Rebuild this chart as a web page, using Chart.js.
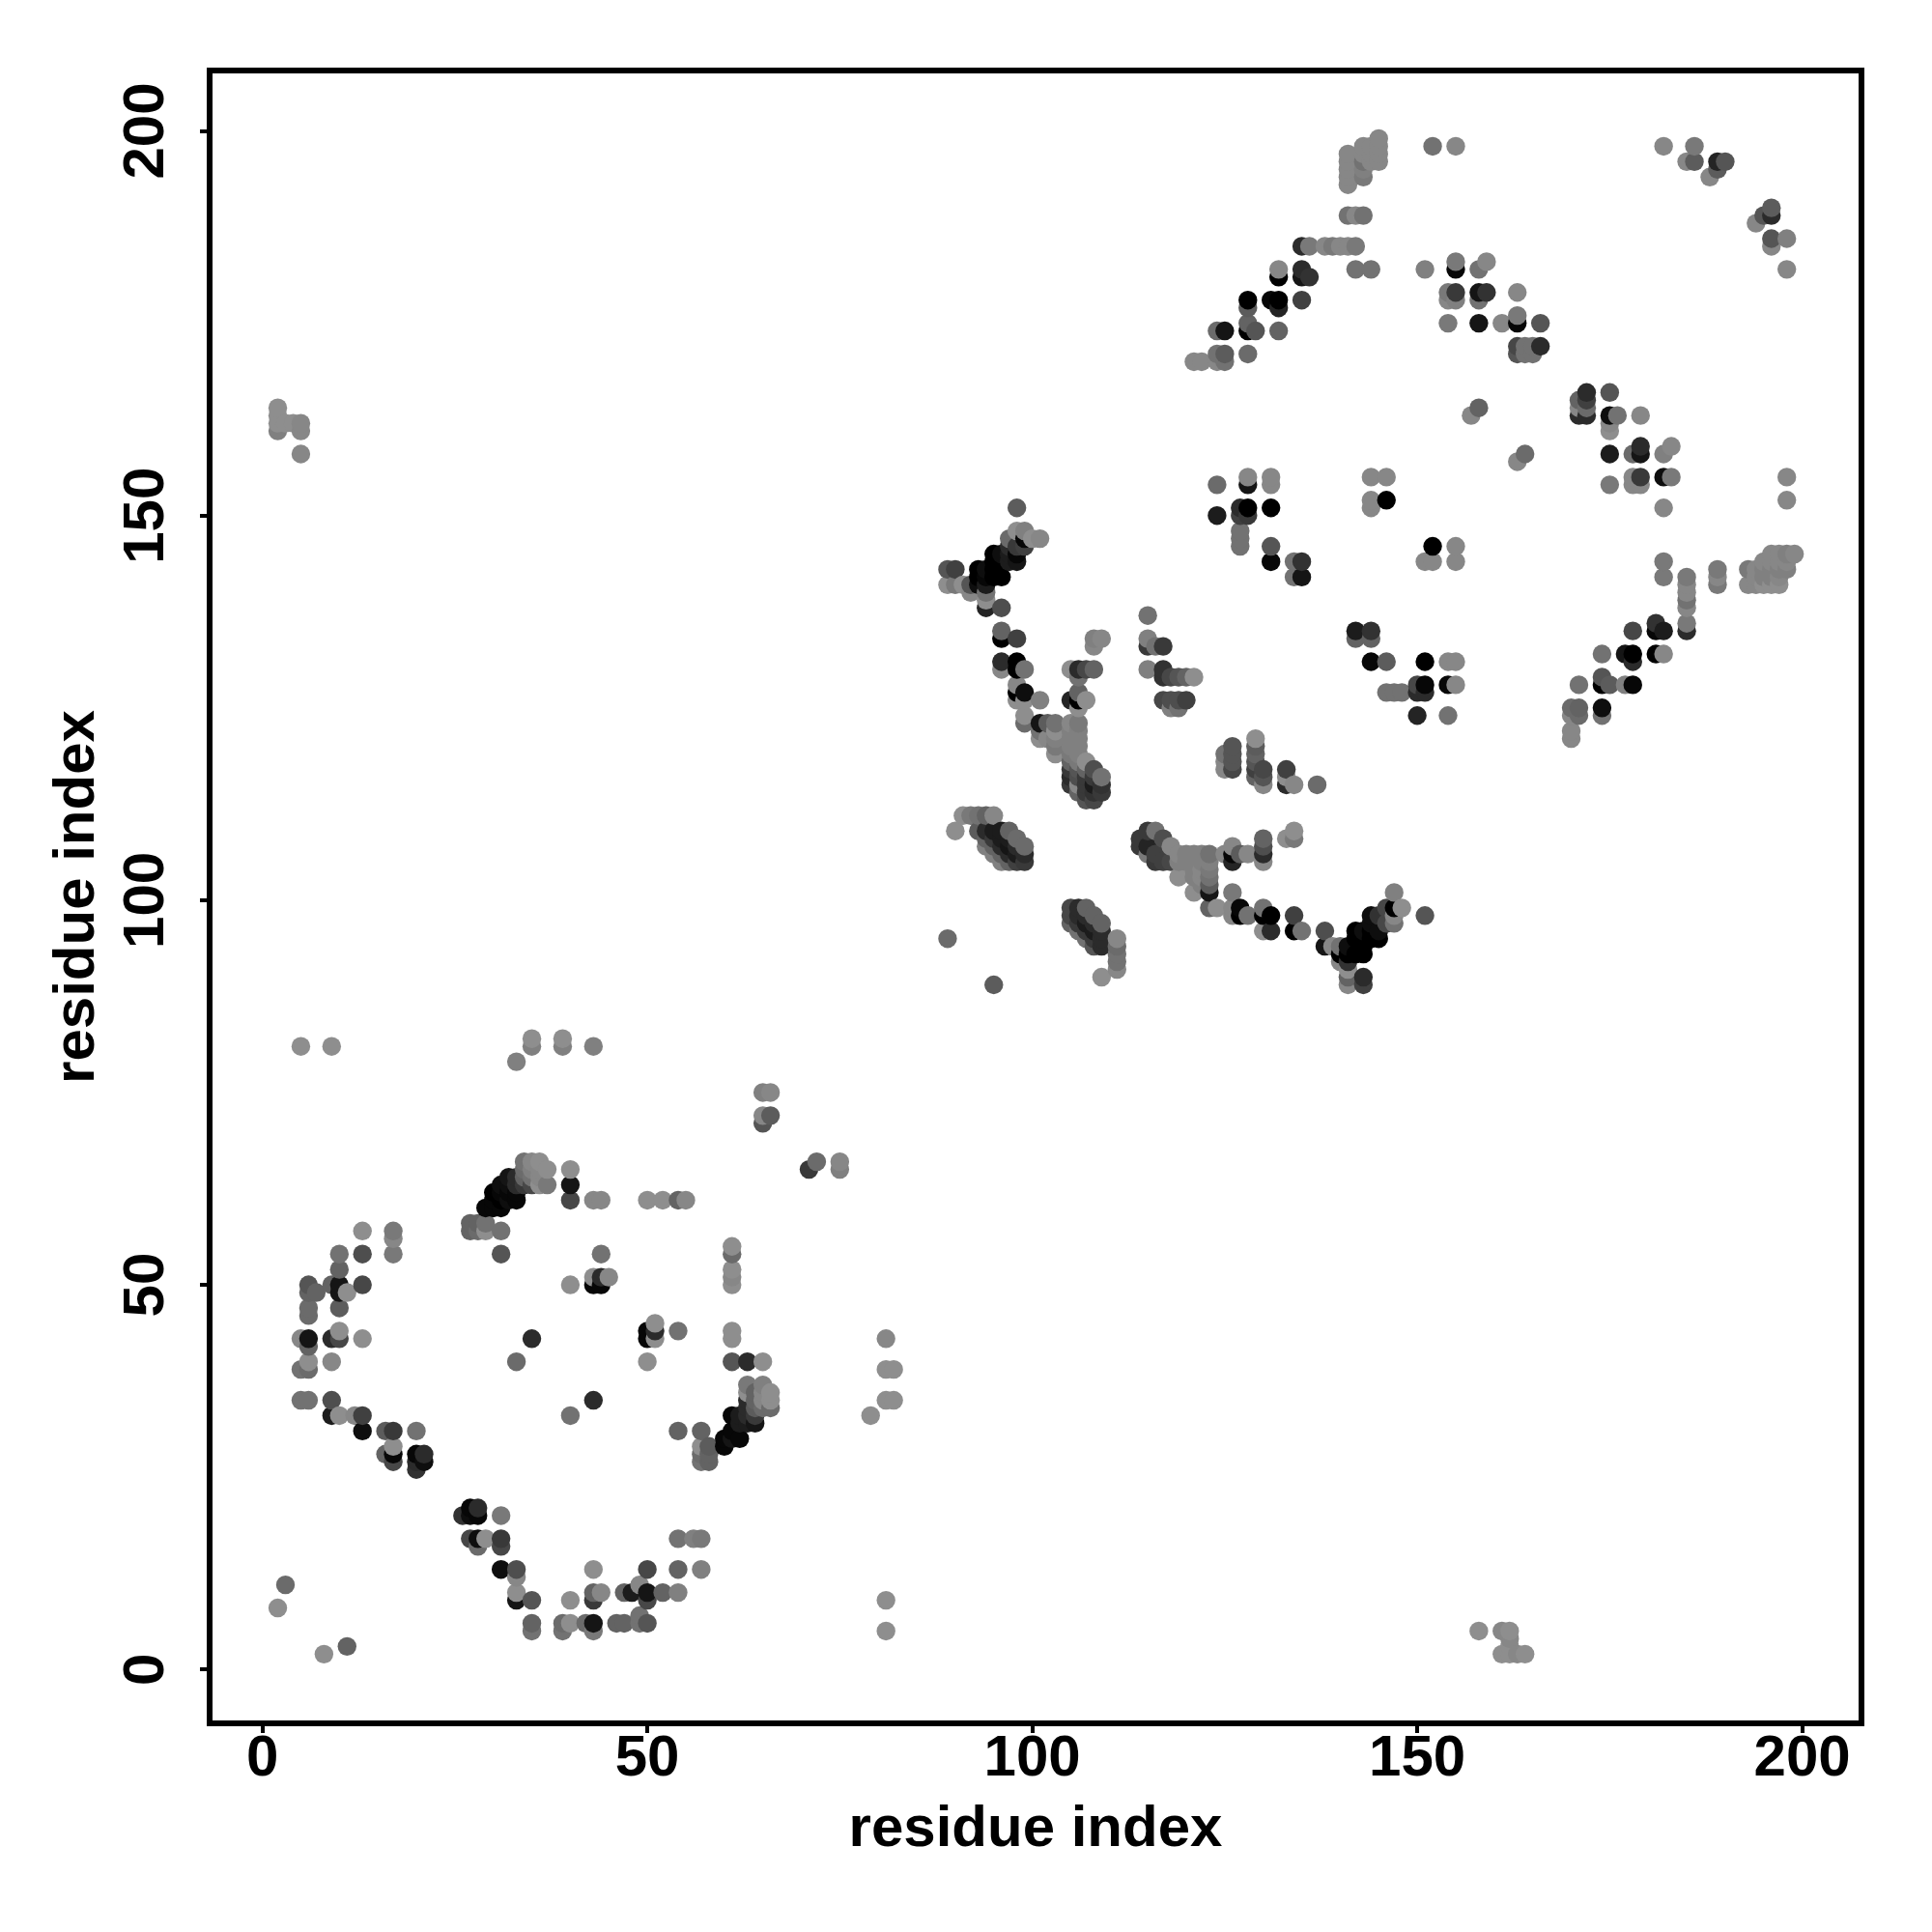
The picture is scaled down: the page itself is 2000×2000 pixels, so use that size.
<!DOCTYPE html>
<html>
<head>
<meta charset="utf-8">
<title>contact map</title>
<script src="https://cdn.jsdelivr.net/npm/chart.js@4"></script>
<style>
html, body { margin: 0; padding: 0; background: #fff; }
canvas { display: block; }
</style>
</head>
<body>
<canvas id="contact_map" width="2000" height="2000"></canvas>
<script>
// every contact is [residue i, residue j, strength], strength 0 = faint, 1 = strong
const xTicks = [0, 50, 100, 150, 200]
const yTicks = [0, 50, 100, 150, 200]
const axisTitle = "residue index"

const lowerRing = [
  [2,8,0],[3,11,.25],[8,2,0],[11,3,.3],
  [35,5,.2],[35,6,.3],[39,5,.2],[39,6,.25],[40,6,0],[42,6,.25],[43,5,.15],[43,6,.85],[46,6,.3],[47,6,.3],[49,6,.2],[49,7,.2],[50,6,.4],
  [33,9,.85],[35,9,.4],[40,9,0],[43,9,.6],[50,9,.5],
  [33,10,0],[43,10,.3],[44,10,.05],[47,10,.3],[48,10,.8],[50,10,.85],[52,10,.3],[54,10,.1],[49,11,.05],
  [33,12,.05],[31,13,.9],[33,13,.45],[43,13,0],[50,13,.5],[54,13,.3],[57,13,.1],
  [28,16,.25],[31,16,.5],[27,17,.5],[28,17,.9],[29,17,0],[31,17,.6],[54,17,.2],[56,17,.1],[57,17,.15],
  [26,20,.65],[27,20,.9],[28,20,.95],[31,20,.15],[27,21,.95],[28,21,.7],
  [20,26,.65],[17,27,.5],[20,27,.7],[21,27,.9],[16,28,.3],[17,28,.95],[20,28,.95],[21,28,.7],[17,29,0],
  [13,31,.9],[16,31,.35],[17,31,.6],[20,31,.2],[54,31,.3],[57,31,.3],
  [9,33,.8],[10,33,0],[12,33,.05],[13,33,.55],[40,33,.2],
  [5,35,.2],[6,35,.2],[9,35,.45],[43,35,.7],
  [5,39,.2],[6,39,.25],[6,40,0],[9,40,.05],[33,40,.25],[50,40,0],
  [6,42,.3],[5,43,.05],[6,43,.85],[9,43,.7],[10,43,.5],[13,43,0],[35,43,.7],[50,43,.95],[51,43,0],
  [10,44,0],[50,44,.95],[51,44,.7],[54,44,.2],[51,45,0],[6,46,.25],[6,47,.25],[10,47,.35],
  [6,49,.3],[7,49,.3],[10,49,.85],[11,49,0],
  [6,50,.4],[9,50,.3],[10,50,.85],[13,50,.5],[40,50,0],[43,50,.95],[44,50,.95],
  [43,51,0],[44,51,.7],[45,51,.05],[10,52,.3],[10,54,.2],[13,54,.45],[17,54,.15],[31,54,.4],[44,54,.2],[17,56,.05],[13,57,0],[17,57,.15],
  [27,57,.3],[28,57,.25],[29,57,0],[31,57,.2],[27,58,.3],[28,58,.3],[29,58,.2]
]

const lowerDiagonal = [
  [29,60,.95],[30,60,.95],[31,60,.95],[30,61,.95],[31,61,1],[32,61,.9],[33,61,.95],[40,61,.5],[43,61,.05],[44,61,.05],[50,61,0],[52,61,0],[54,61,.3],[55,61,.05],
  [30,62,1],[31,62,.95],[32,62,.95],[33,62,.95],
  [31,63,.9],[32,63,.9],[33,63,.7],[34,63,.6],[35,63,.5],[36,63,0],[37,63,.15],[40,63,.85],
  [32,64,.85],[33,64,.7],[34,64,.3],[35,64,.2],[36,64,.05],
  [34,65,.25],[35,65,.1],[36,65,.05],[37,65,0],[40,65,0],[34,66,.2],[35,66,.05],[36,66,0],
  [61,55,0],[61,54,.25],[61,52,0],[61,51,.05],[61,50,0],[61,44,0],[61,43,0],[61,40,.4],[63,40,.7],[65,40,0],
  [63,37,.15],[65,37,.1],[66,36,0],[60,29,.95],[60,30,.95],[61,30,.85],[62,30,.95],[61,31,.95],[61,33,.95],
  [62,32,.8],[62,33,.8],[63,32,.8],[64,32,.85],[63,33,.7],[64,33,.6],[63,34,.7],[64,34,.35],[65,34,.25],[66,34,.25],
  [63,35,.7],[64,35,.3],[65,35,.05],[66,35,0],[63,36,0],[64,36,.3],[65,36,.05],
  [57,29,0],[58,29,.35],[57,28,.25],[58,28,.3],[57,27,.2],[58,27,.3]
]

const lowerFar = [
  [5,81,0],[9,81,0],[33,79,.1],[35,81,.1],[35,82,0],[39,81,.1],[39,82,0],[43,81,.1],
  [65,75,.1],[66,75,.05],[65,72,.05],[66,72,.35],[65,71,.4],[71,65,.6],[72,66,.25],[75,66,.05],[75,65,.1],
  [79,33,0],[81,35,0],[82,35,0],[81,39,0],[82,39,0],[81,43,.05],[81,9,0],[81,5,0],
  [158,5,0],[161,5,.05],[162,5,0],[162,4,.05],[162,3,0],[161,2,0],[162,2,0],[163,2,.05],[164,2,0],
  [2,161,.1],[2,162,0],[2,163,0],[2,164,0],[3,162,0],[4,162,0],[5,162,.05],[5,161,.05],[5,158,.05]
]

const middleStrands = [
  [89,95,.25],[95,89,.35],[109,90,0],[111,91,.05],[111,92,.2],[111,93,.2],[111,94,.25],[111,95,.05],
  [105,99,.5],[106,99,.7],[107,99,.3],[105,98,.5],[106,98,.7],[107,98,.7],[108,98,.3],
  [105,97,.3],[106,97,.6],[107,97,.8],[108,97,.7],[109,97,.3],[106,96,.2],[107,96,.6],[108,96,.8],[109,96,.7],
  [107,95,.2],[108,95,.6],[109,95,.7],[108,94,.4],[109,94,.7],
  [91,111,0],[92,111,.15],[93,111,.2],[94,111,.3],[95,111,.05],[90,109,0],
  [93,109,.35],[94,109,.7],[95,109,.8],[96,109,.8],[97,109,.3],[94,108,.3],[95,108,.6],[96,108,.8],[97,108,.8],[98,108,.25],
  [94,107,.1],[95,107,.3],[96,107,.7],[97,107,.85],[98,107,.7],[99,107,.25],[95,106,.1],[96,106,.3],[97,106,.7],[98,106,.8],[99,106,.7],
  [96,105,.1],[97,105,.3],[98,105,.55],[99,105,.6],
  [105,130,0],[106,130,.7],[107,130,.5],[108,130,.3],[106,129,.2],[106,127,.3],[105,126,.75],[106,126,1],[107,126,0],[106,125,0],
  [108,134,.1],[109,134,.05],[108,133,.05],
  [115,137,.2],[115,134,.1],[115,133,.6],[116,133,.2],[117,133,.6],[115,130,.1],[117,130,.65],[117,129,.65],[118,129,.5],[119,129,.4],[120,129,.3],[121,129,0],
  [117,126,.5],[118,126,.45],[119,126,.45],[120,126,.55],[118,125,.1],[119,125,.2],
  [98,151,.35],[98,148,0],[99,148,.1],[97,147,.25],[99,147,.95],[101,147,.05],[100,147,0],
  [95,145,1],[96,145,.9],[97,145,.8],[98,145,.95],[97,146,.7],[98,146,.6],[99,146,.55],[95,144,1],[97,144,.8],[98,144,.85],
  [93,143,1],[95,143,1],[94,143,.9],[93,142,1],[94,142,.95],[95,142,1],[96,142,1],[92,141,.4],[93,141,.9],[94,141,.8],
  [89,143,.4],[90,143,.55],[89,141,0],[90,141,.15],[91,141,0],[92,140,.05],[94,140,.2],[94,139,0],[94,138,.75],[96,138,.45],
  [96,135,.3],[96,134,1],[98,134,.55],[96,131,.7],[96,130,.05],[98,131,1],[98,130,1],[99,130,.2],
  [98,128,.05],[98,127,1],[99,127,.9],[98,126,0],[99,126,0],[101,126,.1],[99,124,0],[99,123,.25],
  [101,123,.85],[102,123,.35],[103,123,.2],[101,122,.2],[103,122,0],[101,121,0],[102,121,.05],[103,121,.1],[103,120,.15],[103,119,0],
  [105,123,.05],[106,123,.15],[105,122,.1],[106,122,.1],[105,121,.1],[106,121,.1],[105,120,.1],[106,120,.1],[105,119,.15],[106,119,.1],
  [105,118,.3],[106,118,.15],[107,118,0],[105,117,.6],[106,117,.4],[107,117,.3],[108,117,.45],
  [105,116,.7],[106,116,.45],[107,116,.6],[108,116,.6],[109,116,.2],[105,115,.6],[106,115,.05],[107,115,.6],[108,115,.8],[109,115,.65],
  [106,114,.3],[107,114,.6],[108,114,.65],[109,114,.6],[107,113,.4],[108,113,.5]
]

const middleArc = [
  [114,108,.6],[115,109,.6],[116,109,.2],[114,107,.6],[115,107,.75],[117,108,.45],[118,107,.05],[115,106,.15],[116,106,.55],
  [116,105,.6],[117,105,.55],[118,105,.5],
  [119,106,.05],[120,106,.1],[121,106,.1],[122,106,.1],[123,106,.2],[119,105,.1],[120,105,.1],[121,105,.1],[122,105,.1],[123,105,.1],
  [119,103,0],[121,103,.1],[122,103,.05],[123,103,.2],[121,104,.1],[122,104,.05],[123,104,.15],
  [121,101,0],[122,102,.1],[123,102,.35],[123,101,.85],[123,99,.3],[124,99,0],[126,101,.15],[126,99,.05],[127,99,.95],[127,98,1],[126,98,.05],[128,98,.2],
  [125,106,.05],[126,107,.05],[126,106,.95],[126,105,.75],[127,106,.35],[128,106,.05],[130,108,.3],[130,107,.45],[130,106,.7],[130,105,.05],
  [133,108,0],[134,109,0],[134,108,.15],
  [130,99,.2],[130,98,1],[131,98,1],[130,96,0],[131,96,.7],[134,98,.55],[134,96,1],[135,96,.2],[138,96,.45],[138,94,.85],[139,94,.05],
  [140,94,.2],[141,94,.9],[140,93,1],[141,93,1],[142,93,1],[143,93,1],[142,96,1],[143,96,.9],[142,95,1],[143,94,1],[144,95,1],[145,95,1],[144,96,1],[145,96,.9],
  [144,97,.9],[144,98,.9],[145,98,.65],[146,99,.5],[146,97,.5],[147,97,.2],[147,98,.05],[147,99,1],[148,99,0],[147,101,.1],[151,98,.4],
  [140,92,.05],[141,92,.65],[141,91,0],[141,90,.3],[141,89,.05],[143,90,.7],[143,89,.55],
  [137,115,.25],[130,115,.05],[133,115,.7],[134,115,.05],[133,116,0],[133,117,.55],[129,117,.55],[130,117,.5],[126,117,.5],[125,117,.05],
  [129,121,0],[126,120,.4],[125,119,.2],[129,120,.35],[129,119,.3],[129,118,.4],[126,119,.4],[126,118,.4],[125,118,.05],[129,116,.3],[130,116,.4]
]

const upperRing = [
  [124,154,.25],[124,150,.8],[128,155,.05],[128,154,.85],[131,155,.05],[131,154,.05],
  [127,151,.7],[128,151,1],[127,150,.55],[128,150,.6],[131,151,1],[127,148,.2],[127,147,.2],[127,146,.2],
  [131,146,.4],[131,144,.95],[134,144,.2],[135,144,.65],[134,142,.2],[135,142,.85],
  [144,155,.05],[146,155,.05],[144,152,.05],[146,152,1],[144,151,.05],
  [152,146,1],[155,146,.05],[151,144,.05],[152,144,.05],[155,144,.05],
  [157,163,.05],[158,164,.3],[163,157,.05],[164,158,.25],
  [172,166,.7],[171,165,.3],[172,165,.55],[171,164,.05],[172,164,.25],[171,163,.7],[172,163,.7],[175,166,.4],
  [175,163,.9],[176,163,.2],[179,163,.05],[175,161,0],[175,162,.05],
  [175,158,.8],[178,158,.25],[179,159,.7],[179,158,.85],[182,158,.1],[183,159,.05],
  [175,154,.15],[178,155,.05],[179,155,.6],[178,154,.05],[179,154,.05],[182,155,.9],[183,155,.15],[182,151,.05],
  [198,155,.05],[198,152,.05],[182,144,.15],[182,142,.15],
  [185,142,.15],[185,141,.05],[185,140,.05],[185,139,.2],[185,138,.05],[185,136,.15],[185,135,.7],
  [189,143,.15],[189,142,.05],[189,141,.15],
  [193,141,.05],[194,141,.05],[195,141,0],[196,141,0],[197,141,0],[194,142,.05],[195,142,.1],[196,142,.1],[197,142,.05],
  [193,143,.15],[194,143,.05],[195,143,.1],[196,143,.1],[197,143,.1],[198,143,.1],
  [195,144,.05],[196,144,.05],[197,144,.05],[198,144,.05],[196,145,.05],[197,145,.05],[198,145,.1],[199,145,.05],
  [178,135,.5],[181,136,.65],[181,135,.95],[182,135,.8],[174,132,.2],[177,132,.85],[178,132,1],[178,131,.7],[181,132,1],[182,132,.05],
  [171,128,.2],[174,129,.4],[174,128,1],[175,128,.35],[177,128,.1],[178,128,.95],
  [170,125,.25],[171,125,.3],[174,125,.9],[170,124,.05],[171,124,.25],[174,124,.2],[170,122,.05],[170,121,.05],
  [142,135,.8],[144,135,.65],[142,134,.3],[144,134,.3],[144,131,.95],[146,131,.35],[151,131,1],[154,131,.05],[155,131,.05],
  [154,128,.95],[155,128,.05],[146,127,.2],[147,127,.2],[148,127,.2],[150,128,.5],[151,128,.95],[150,127,.7],[151,127,.7],[150,124,.75],[154,124,.2]
]

const upperDiagonal = [
  [182,198,.05],[186,198,.15],[185,196,.05],[186,196,.35],[189,196,.75],[190,196,.4],[189,195,.35],[188,194,.05],
  [152,198,.2],[155,198,.05],
  [196,190,.35],[195,189,.4],[196,189,.7],[194,188,.05],[196,186,.4],[198,186,.1],[196,185,.05],[198,182,.05],
  [141,193,.05],[141,194,.05],[141,195,.05],[141,196,.05],[141,197,.05],[143,194,.15],[143,195,.1],[143,196,.2],[143,197,.05],[143,198,.05],
  [144,196,.05],[144,197,.05],[144,198,.05],[145,196,.05],[145,197,.05],[145,198,.05],[145,199,.05],
  [141,189,.2],[142,189,.05],[143,189,.2],
  [135,185,.7],[136,185,.15],[138,185,.05],[139,185,.15],[140,185,.05],[141,185,.05],[142,185,.15],
  [142,182,.2],[144,182,.2],[151,182,.1],[155,183,.15],[155,182,.95],
  [121,170,.05],[122,170,.05],[124,170,.05],[125,170,.2],[124,171,.2],[125,171,.35],[128,171,.25],
  [124,174,.25],[125,174,.85],[128,175,.3],[128,174,1],[129,174,.4],[132,174,.3],[128,177,.35],
  [128,178,1],[131,178,.95],[132,178,1],[132,177,.75],[135,178,.55],
  [132,182,.05],[132,181,1],[135,182,.7],[135,181,.85],[136,181,.65],
  [158,182,.2],[159,183,.05],
  [154,179,.15],[155,179,.6],[158,179,.85],[159,179,.65],[163,179,.05],[154,178,.05],[155,178,.1],[158,178,.2],
  [154,175,.15],[158,175,.85],[161,175,.05],[163,176,.15],[163,175,.95],[166,175,.4],
  [163,172,.5],[164,172,.2],[165,172,.2],[166,172,.7],[163,171,.4],[164,171,.2],[165,171,.2]
]

const contacts = [...lowerRing, ...lowerDiagonal, ...lowerFar, ...middleStrands, ...middleArc, ...upperRing, ...upperDiagonal]
  .sort((a, b) => a[0] - b[0] || a[1] - b[1])

function strengthToGrey(s){
    var g = Math.round(142 * (1 - s))
    return "rgb(" + g + "," + g + "," + g + ")"
}

const tickFont = { family: "'Liberation Sans', Arial, sans-serif", size: 60, weight: "bold" }

// heavy frame around the plot area, drawn over the points like the original
const frameBox = {
    id: "frameBox",
    afterDatasetsDraw(chart){
        const a = chart.chartArea, c = chart.ctx
        c.save()
        c.strokeStyle = "#000"
        c.lineWidth = 6
        c.strokeRect(a.left, a.top, a.right - a.left, a.bottom - a.top)
        c.restore()
    }
}

var ctx = document.getElementById("contact_map")
var chart = new Chart(ctx, {
    type: "scatter",
    data: {
        datasets: [{
            data: contacts.map(p => ({ x: p[0], y: p[1], s: p[2] })),
            backgroundColor: c => strengthToGrey(c.raw.s),
            borderWidth: 0,
            pointRadius: 9.7,
        }]
    },
    options: {
        responsive: false,
        animation: false,
        layout: { padding: { top: 73, right: 73, left: 0, bottom: 0 } },
        plugins: { legend: { display: false }, tooltip: { enabled: false } },
        scales: {
            x: {
                type: "linear",
                min: -6.85,
                max: 207.7,
                afterBuildTicks: s => { s.ticks = xTicks.map(v => ({ value: v })) },
                afterFit: s => { s.height = 216 },
                grid: { drawOnChartArea: false, color: "#000", lineWidth: 4, tickLength: 10 },
                border: { display: false },
                ticks: { color: "#000", font: tickFont, padding: -9, maxRotation: 0, autoSkip: false },
                title: { display: true, text: axisTitle, color: "#000", font: tickFont, padding: { top: 0, bottom: 70 } },
            },
            y: {
                type: "linear",
                min: -7,
                max: 207.85,
                afterBuildTicks: s => { s.ticks = yTicks.map(v => ({ value: v })) },
                afterFit: s => { s.width = 217 },
                grid: { drawOnChartArea: false, color: "#000", lineWidth: 4, tickLength: 10 },
                border: { display: false },
                ticks: { color: "#000", font: tickFont, padding: 4, minRotation: 90, maxRotation: 90, crossAlign: "center", autoSkip: false },
                title: { display: true, text: axisTitle, color: "#000", font: tickFont, padding: { top: 44, bottom: 0 } },
            },
        },
    },
    plugins: [frameBox],
});
</script>
</body>
</html>
